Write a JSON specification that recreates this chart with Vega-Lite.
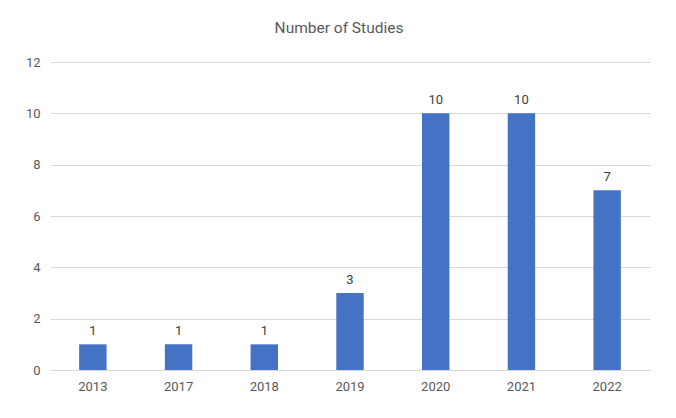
{
  "$schema": "https://vega.github.io/schema/vega-lite/v6.json",
  "autosize": "none",
  "width": 600,
  "height": 308,
  "padding": {"left": 50, "top": 62, "right": 26, "bottom": 48},
  "background": "white",
  "title": {"text": "Number of Studies", "fontSize": 15.5, "font": "Roboto", "fontWeight": "normal", "color": "#595959", "offset": 20, "dx": -11, "anchor": "middle"},
  "data": {"values": [
    {"year": "2013", "count": 1},
    {"year": "2017", "count": 1},
    {"year": "2018", "count": 1},
    {"year": "2019", "count": 3},
    {"year": "2020", "count": 10},
    {"year": "2021", "count": 10},
    {"year": "2022", "count": 7}
  ]},
  "encoding": {
    "x": {"field": "year", "type": "nominal", "sort": null, "title": null,
      "scale": {"paddingInner": 0.68, "paddingOuter": 0.34},
      "axis": {"labelAngle": 0, "ticks": false, "domain": true, "domainColor": "#d9d9d9", "labelPadding": 10, "labelFontSize": 13, "labelFont": "Roboto", "labelColor": "#595959", "grid": false}},
    "y": {"field": "count", "type": "quantitative", "title": null,
      "scale": {"domain": [0, 12]},
      "axis": {"values": [0, 2, 4, 6, 8, 10, 12], "ticks": false, "domain": false, "labelPadding": 10, "labelFontSize": 13, "labelFont": "Roboto", "labelColor": "#595959", "gridColor": "#d9d9d9"}}
  },
  "layer": [
    {"mark": {"type": "bar", "color": "#4472C4"}},
    {"mark": {"type": "text", "baseline": "bottom", "dy": -6, "fontSize": 13, "font": "Roboto", "color": "#404040"},
     "encoding": {"text": {"field": "count", "type": "quantitative"}}}
  ],
  "config": {"view": {"stroke": null}}
}
